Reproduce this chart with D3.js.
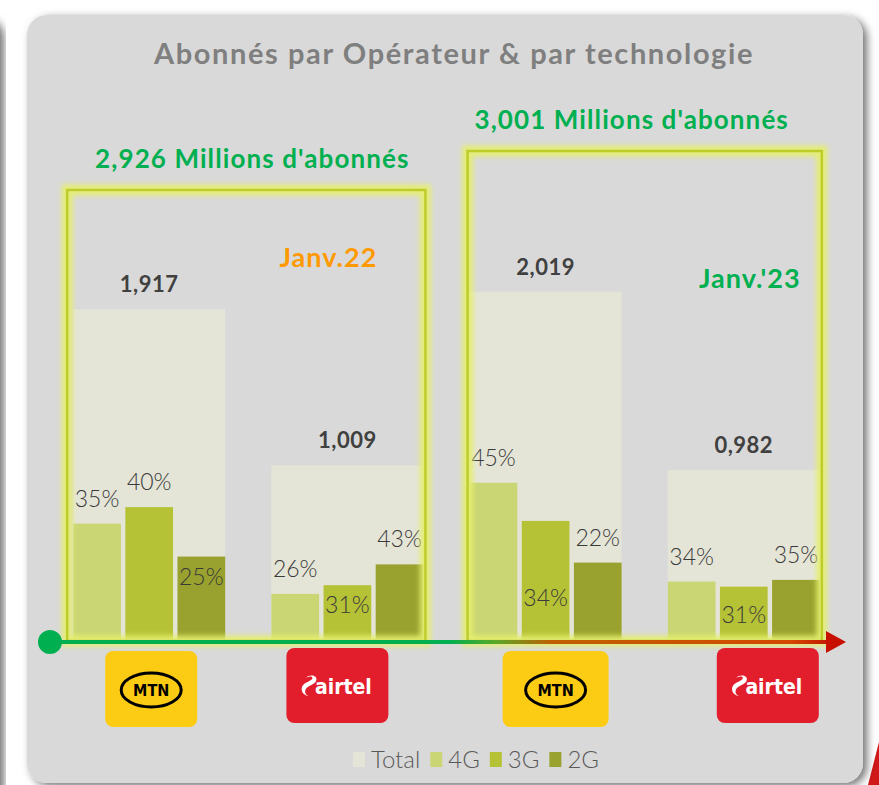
<!DOCTYPE html>
<html>
<head>
<meta charset="utf-8">
<script src="https://cdn.jsdelivr.net/npm/d3@7"></script>
<style>
  html, body { margin: 0; padding: 0; background: #ffffff; }
  svg { display: block; }
</style>
</head>
<body>
<div id="chart"></div>
<script>
// chart values
const groups = ["MTN-22", "Airtel-22", "MTN-23", "Airtel-23"];
const operators = ["MTN", "airtel", "MTN", "airtel"];
const totals = [1.917, 1.009, 2.019, 0.982];
const techs = ["4G", "3G", "2G"];
const share4G = [35, 26, 45, 34];
const share3G = [40, 31, 34, 31];
const share2G = [25, 43, 22, 35];
const periods = ["Janv.22", "Janv.'23"];
const periodTotals = [2.926, 3.001];
const legendLabels = ["Total", "4G", "3G", "2G"];

// where each % label sits: above the bar, inside it, or low inside it
const pctPlace = [
  ["above", "above", "inside"],
  ["above", "inside", "above"],
  ["above", "low", "above"],
  ["above", "inside2", "above"]
];

const width = 879, height = 785;
const colors = {Total: "#e4e5d7", "4G": "#cad674", "3G": "#b6c236", "2G": "#99a22e"};
const font = "Lato, 'Open Sans', sans-serif";
const base = 639;

let svg = d3.select("#chart").append("svg")
  .attr("width", width)
  .attr("height", height)
  .attr("viewBox", [0, 0, width, height]);

let defs = svg.append("defs");

//shadow for the panel
let shadow = defs.append("filter").attr("id", "shadow")
  .attr("x", "-10%").attr("y", "-10%").attr("width", "120%").attr("height", "120%");
shadow.append("feDropShadow")
  .attr("dx", 4).attr("dy", 3).attr("stdDeviation", 4)
  .attr("flood-color", "#000").attr("flood-opacity", 0.55);

//glow for the period boxes
defs.append("filter").attr("id", "glow")
  .attr("x", "-10%").attr("y", "-10%").attr("width", "120%").attr("height", "120%")
  .append("feGaussianBlur").attr("stdDeviation", 2.5);

//gradient of the time arrow
let grad = defs.append("linearGradient").attr("id", "arrowGrad")
  .attr("gradientUnits", "userSpaceOnUse")
  .attr("x1", 50).attr("x2", 846).attr("y1", 0).attr("y2", 0);
[[0, "#00b050"], [0.5, "#00b050"], [0.56, "#5aa828"], [0.63, "#c06000"], [0.93, "#d24a00"], [1, "#c00000"]]
  .forEach(s => grad.append("stop").attr("offset", s[0]).attr("stop-color", s[1]));

// neighbouring panel sliver on the left and red shape bottom right
svg.append("rect")
  .attr("x", -60).attr("y", 15).attr("width", 60).attr("height", 820).attr("rx", 20)
  .attr("fill", "#d9d9d9").attr("filter", "url(#shadow)");
svg.append("polygon")
  .attr("points", "879,742 879,785 868,785")
  .attr("fill", "#d01818");

// main panel
svg.append("rect")
  .attr("x", 27).attr("y", 15).attr("width", 836).attr("height", 768).attr("rx", 20)
  .attr("fill", "#d9d9d9").attr("filter", "url(#shadow)");

svg.append("text")
  .attr("x", 454).attr("y", 64)
  .attr("text-anchor", "middle")
  .attr("font-family", font).attr("font-weight", "bold").attr("font-size", 29)
  .attr("letter-spacing", 1.6)
  .attr("fill", "#7f7f7f")
  .text("Abonnés par Opérateur & par technologie");

// scales
let x = d3.scaleBand()
  .domain(groups)
  .range([50, 843])
  .paddingInner(0.233)
  .paddingOuter(0.117);

let xTech = d3.scaleBand()
  .domain(techs)
  .range([0, x.bandwidth()])
  .paddingInner(0.085);

let y = d3.scaleLinear()
  .domain([0, 2.5])
  .range([base, base - 430]);

const fmt = d3.formatLocale({decimal: ",", thousands: " ", grouping: [3], currency: ["", ""]}).format(".3f");

let rows = groups.map((g, i) => ({
  group: g, total: totals[i],
  shares: [share4G[i], share3G[i], share2G[i]]
}));

// total bars
svg.append("g").selectAll("rect")
  .data(rows).enter().append("rect")
  .attr("x", d => x(d.group))
  .attr("y", d => y(d.total))
  .attr("width", x.bandwidth())
  .attr("height", d => base - y(d.total))
  .attr("fill", colors.Total);

// technology bars
let techGroups = svg.append("g").selectAll("g")
  .data(rows).enter().append("g")
  .attr("transform", d => "translate(" + x(d.group) + ",0)");

techGroups.selectAll("rect")
  .data(d => techs.map((t, j) => ({tech: t, v: d.total * d.shares[j] / 100})))
  .enter().append("rect")
  .attr("x", d => xTech(d.tech))
  .attr("y", d => y(d.v))
  .attr("width", xTech.bandwidth())
  .attr("height", d => base - y(d.v))
  .attr("fill", d => colors[d.tech]);

// period boxes with glow
let boxes = [
  {x0: x(groups[0]) - 6, x1: x(groups[1]) + x.bandwidth() + 2, top: 190},
  {x0: x(groups[2]) - 2, x1: x(groups[3]) + x.bandwidth() + 2, top: 151}
];
let boxG = svg.append("g");
boxG.selectAll("rect.glow")
  .data(boxes).enter().append("rect")
  .attr("class", "glow")
  .attr("x", d => d.x0).attr("y", d => d.top)
  .attr("width", d => d.x1 - d.x0).attr("height", d => 641 - d.top)
  .attr("fill", "none")
  .attr("stroke", "#e6f06c").attr("stroke-width", 11).attr("stroke-opacity", 0.9)
  .attr("filter", "url(#glow)");
boxG.selectAll("rect.line")
  .data(boxes).enter().append("rect")
  .attr("class", "line")
  .attr("x", d => d.x0).attr("y", d => d.top)
  .attr("width", d => d.x1 - d.x0).attr("height", d => 641 - d.top)
  .attr("fill", "none")
  .attr("stroke", "#bfcd2c").attr("stroke-width", 2.5);

// headlines over each box
const headShift = [6, -13];
svg.append("g").selectAll("text")
  .data(boxes).enter().append("text")
  .attr("x", (d, i) => (d.x0 + d.x1) / 2 + headShift[i])
  .attr("y", d => d.top - 22)
  .attr("text-anchor", "middle")
  .attr("font-family", font).attr("font-weight", "bold").attr("font-size", 26)
  .attr("letter-spacing", 1.1)
  .attr("fill", "#00b050")
  .text((d, i) => fmt(periodTotals[i]) + " Millions d'abonnés");

// period names
const periodColors = ["#ff9900", "#00b050"];
const periodPos = [{dx: -19, y: 267}, {dx: 6, y: 288}];
svg.append("g").selectAll("text")
  .data(periods).enter().append("text")
  .attr("x", (d, i) => x(groups[i * 2 + 1]) + x.bandwidth() / 2 + periodPos[i].dx)
  .attr("y", (d, i) => periodPos[i].y)
  .attr("text-anchor", "middle")
  .attr("font-family", font).attr("font-weight", "bold").attr("font-size", 27)
  .attr("letter-spacing", 1)
  .attr("fill", (d, i) => periodColors[i])
  .text(d => d);

// total labels
svg.append("g").selectAll("text")
  .data(rows).enter().append("text")
  .attr("x", d => x(d.group) + x.bandwidth() / 2)
  .attr("y", d => y(d.total) - 17)
  .attr("text-anchor", "middle")
  .attr("font-family", font).attr("font-weight", "bold").attr("font-size", 22)
  .attr("letter-spacing", 0.5)
  .attr("fill", "#404040")
  .text(d => fmt(d.total));

// percentage labels
techGroups.each(function(d, i) {
  d3.select(this).selectAll("text")
    .data(techs.map((t, j) => ({tech: t, s: d.shares[j], v: d.total * d.shares[j] / 100, place: pctPlace[i][j]})))
    .enter().append("text")
    .attr("x", e => xTech(e.tech) + xTech.bandwidth() / 2)
    .attr("y", e => {
      if (e.place == "above") return y(e.v) - 17;
      if (e.place == "inside") return y(e.v) + 28;
      if (e.place == "inside2") return y(e.v) + 36;
      return base - 33;
    })
    .attr("text-anchor", "middle")
    .attr("font-family", font).attr("font-weight", 300).attr("font-size", 23)
    .attr("fill", "#3a3a3a")
    .text(e => e.s + "%");
});

// time arrow
svg.append("line")
  .attr("x1", 50).attr("x2", 830).attr("y1", 642).attr("y2", 642)
  .attr("stroke", "url(#arrowGrad)").attr("stroke-width", 4);
svg.append("polygon")
  .attr("points", "826,631 846,642 826,653")
  .attr("fill", "#c81000");
svg.append("circle")
  .attr("cx", 50).attr("cy", 642).attr("r", 12)
  .attr("fill", "#00b050");

// operator logos
const logoShift = [2, -10, 10, 24];
let logos = svg.append("g").selectAll("g")
  .data(rows).enter().append("g")
  .attr("transform", (d, i) => "translate(" + (x(d.group) + x.bandwidth() / 2 + logoShift[i]) + "," + (i % 2 ? 686 : 689) + ")");

logos.each(function(d, i) {
  let g = d3.select(this);
  if (operators[i] == "MTN") {
    let w = i == 0 ? 92 : 106;
    g.append("rect").attr("x", -w / 2).attr("y", -38).attr("width", w).attr("height", 76)
      .attr("rx", 8).attr("fill", "#fccc14");
    g.append("ellipse").attr("cx", 0).attr("cy", 1).attr("rx", 30).attr("ry", 17)
      .attr("fill", "none").attr("stroke", "#000").attr("stroke-width", 3);
    g.append("text").attr("x", 0).attr("y", 7).attr("text-anchor", "middle")
      .attr("font-family", "'DejaVu Sans Condensed', 'Liberation Sans Narrow', sans-serif")
      .attr("font-weight", "bold").attr("font-size", 16).attr("fill", "#000")
      .text("MTN");
  } else {
    g.append("rect").attr("x", -51).attr("y", -38).attr("width", 102).attr("height", 75)
      .attr("rx", 8).attr("fill", "#e31e2c");
    g.append("path")
      .attr("transform", "translate(-30,-2)")
      .attr("d", "M-2,-6 C2,-10 10,-9 9,-4 C8,1 0,1 -2,6 C-3,9 -1,11 1,12 C-5,11 -7,6 -5,2 C-3,-2 5,-3 5,-6 C5,-8 2,-8 -2,-6 Z")
      .attr("fill", "#fff");
    g.append("text").attr("x", 6).attr("y", 8).attr("text-anchor", "middle")
      .attr("font-family", "'DejaVu Sans Condensed', 'Liberation Sans Narrow', sans-serif")
      .attr("font-weight", "bold").attr("font-size", 21).attr("fill", "#fff")
      .text("airtel");
  }
});

// legend
let legend = svg.append("g").attr("transform", "translate(353,0)");
let lx = 0;
legendLabels.forEach(function(l) {
  legend.append("rect")
    .attr("x", lx).attr("y", 752).attr("width", 12).attr("height", 15)
    .attr("fill", colors[l]);
  let t = legend.append("text")
    .attr("x", lx + 18).attr("y", 768)
    .attr("font-family", font).attr("font-weight", 300).attr("font-size", 24)
    .attr("fill", "#595959")
    .text(l);
  lx += 18 + t.node().getComputedTextLength() + 10;
});
</script>
</body>
</html>
